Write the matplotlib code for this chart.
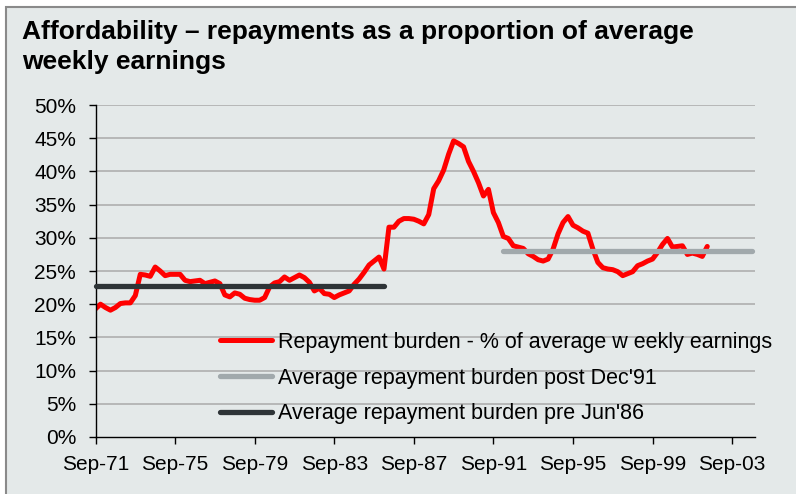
import matplotlib
matplotlib.use("Agg")
import matplotlib.pyplot as plt
from matplotlib.patches import Rectangle
import numpy as np

plt.rcParams['font.family'] = ['Liberation Sans', 'DejaVu Sans']

# quarterly repayment burden, % of average weekly earnings, Sep-71 to Jun-02
burden = [19.3, 20.0, 19.5, 19.1, 19.5, 20.1, 20.2, 20.2, 21.3, 24.5,
          24.4, 24.2, 25.6, 25.0, 24.3, 24.5, 24.5, 24.5, 23.6, 23.4,
          23.5, 23.6, 23.1, 23.3, 23.5, 23.1, 21.4, 21.1, 21.7, 21.5,
          20.9, 20.7, 20.6, 20.6, 21.0, 22.6, 23.2, 23.4, 24.1, 23.6,
          24.0, 24.4, 24.0, 23.3, 22.0, 22.4, 21.6, 21.5, 21.0, 21.4,
          21.7, 22.0, 23.0, 23.8, 24.8, 25.9, 26.5, 27.1, 25.3, 31.6,
          31.6, 32.5, 32.9, 32.9, 32.8, 32.5, 32.1, 33.5, 37.4, 38.6,
          40.2, 42.6, 44.6, 44.2, 43.7, 41.5, 40.0, 38.3, 36.3, 37.3,
          33.8, 32.3, 30.2, 29.9, 28.8, 28.6, 28.4, 27.6, 27.2, 26.7,
          26.5, 26.8, 28.3, 30.6, 32.3, 33.2, 31.9, 31.5, 31.0, 30.7,
          28.3, 26.3, 25.5, 25.3, 25.2, 24.9, 24.3, 24.6, 24.9, 25.8,
          26.1, 26.5, 26.8, 27.8, 29.0, 29.9, 28.6, 28.7, 28.8, 27.5,
          27.7, 27.5, 27.2, 28.7]

pre_avg = 22.8    # average before Jun'86
post_avg = 28.0   # average after Dec'91
pre_span = [0, 58]      # quarters Sep-71 .. Mar-86
post_span = [82, 132]   # quarters Mar-92 .. Sep-04

tick_labels = ['Sep-71', 'Sep-75', 'Sep-79', 'Sep-83', 'Sep-87',
               'Sep-91', 'Sep-95', 'Sep-99', 'Sep-03']

bg = '#e4e9e9'
fig = plt.figure(figsize=(7.96, 4.94), dpi=100, facecolor='white')
fig.patches.append(Rectangle((6 / 796, -0.05), 1.0, 1.05 - 7 / 494,
                             transform=fig.transFigure, facecolor=bg,
                             edgecolor='#8a8a8a', linewidth=1.5, zorder=-5))

ax = fig.add_axes([0.12, 0.1154, 0.8285, 0.672])
ax.set_facecolor('none')

q = np.arange(len(burden))
ax.plot(q, np.array(burden) / 100, color='#ff0000', lw=3.6,
        solid_joinstyle='round', solid_capstyle='round', zorder=2,
        label='Repayment burden - % of average w eekly earnings')
ax.plot(post_span, [post_avg / 100] * 2, color='#a1a9ac', lw=3.8,
        solid_capstyle='round', zorder=3, clip_on=False,
        label="Average repayment burden post Dec'91")
ax.plot(pre_span, [pre_avg / 100] * 2, color='#2e3437', lw=3.8,
        solid_capstyle='round', zorder=3, clip_on=False,
        label="Average repayment burden pre Jun'86")

ax.set_xlim(0, 132.6)
ax.set_ylim(0, 0.5)
yt = np.arange(0, 0.51, 0.05)
ax.set_yticks(yt)
ax.set_yticklabels([f'{int(round(v * 100))}%' for v in yt])
ax.set_xticks(np.arange(0, 129, 16))
ax.set_xticklabels(tick_labels)
for v in yt[1:]:
    ax.axhline(v, color='#b3b3b3', lw=1.3, zorder=1)

for s in ['top', 'right']:
    ax.spines[s].set_visible(False)
ax.spines['left'].set_linewidth(1.0)
ax.spines['bottom'].set_linewidth(1.0)
ax.tick_params(axis='y', direction='out', length=5, width=1, pad=9, labelsize=15)
ax.tick_params(axis='x', direction='out', length=5, width=1, pad=8, labelsize=15)

fig.text(22 / 796, 1 - 20 / 494,
         'Affordability \u2013 repayments as a proportion of average\nweekly earnings',
         fontsize=19, fontweight='bold', va='top', ha='left', linespacing=1.32)

ax.legend(loc='upper left', bbox_to_anchor=(220 / 796, 1 - 332 / 494),
          bbox_transform=fig.transFigure, frameon=False, fontsize=15.5,
          handlelength=2.4, handletextpad=0.3, labelspacing=0.68,
          borderaxespad=0, borderpad=0)

fig.savefig('out.png', dpi=100, facecolor='white')
